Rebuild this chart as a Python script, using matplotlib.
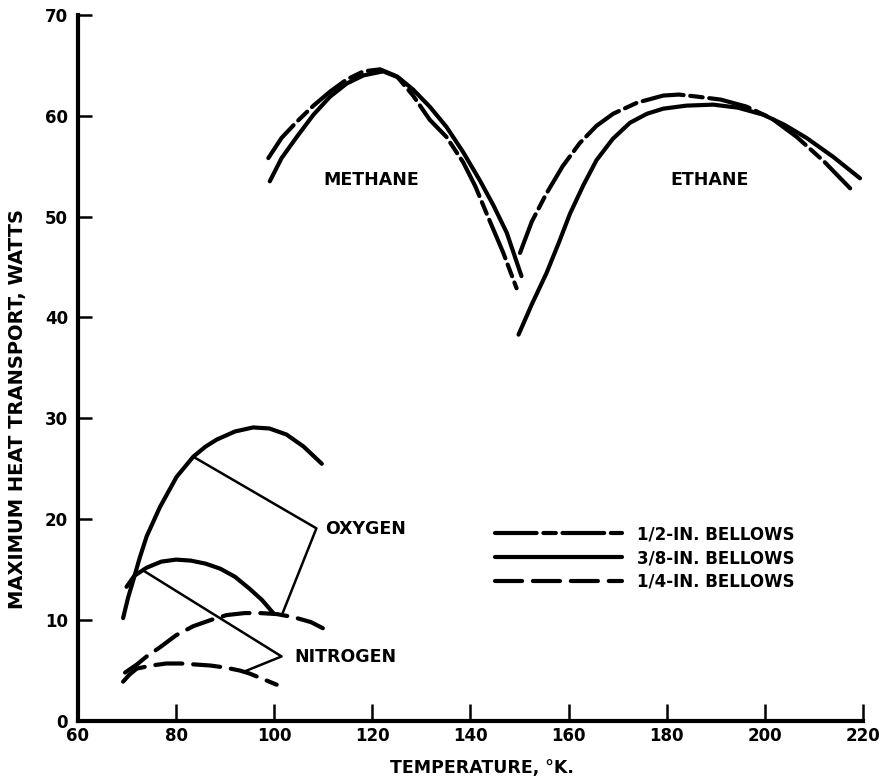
import numpy as np
import matplotlib
matplotlib.use("Agg")
import matplotlib.pyplot as plt

# curve readings, temperature (K) vs maximum heat transport (W)
oxy_38_t = [69.2, 70.2, 71.3, 72.6, 74.0, 76.7, 80.1, 83.5, 86.0, 88.3, 92.0, 95.7, 99.0, 102.5, 106.0, 109.7]
oxy_38_w = [10.2, 12.2, 14.0, 16.2, 18.3, 21.2, 24.2, 26.2, 27.2, 27.9, 28.7, 29.1, 29.0, 28.4, 27.2, 25.5]

nit_38_t = [69.9, 71.5, 74.0, 77.0, 80.0, 83.0, 86.0, 89.0, 92.0, 95.0, 97.5, 99.8]
nit_38_w = [13.3, 14.4, 15.2, 15.8, 16.0, 15.9, 15.6, 15.1, 14.3, 13.1, 12.0, 10.7]

oxy_14_t = [69.6, 72.0, 74.0, 76.7, 80.0, 83.5, 87.0, 90.3, 94.0, 97.1, 100.5, 103.9, 107.5, 110.7]
oxy_14_w = [4.8, 5.6, 6.4, 7.3, 8.5, 9.4, 10.0, 10.5, 10.7, 10.7, 10.6, 10.3, 9.8, 9.0]

nit_14_t = [69.2, 70.5, 72.0, 75.0, 78.0, 81.0, 84.0, 87.0, 90.0, 93.0, 95.0, 97.5, 100.5]
nit_14_w = [3.9, 4.6, 5.2, 5.5, 5.7, 5.7, 5.6, 5.5, 5.3, 5.0, 4.7, 4.2, 3.6]

meth_38_t = [99.1, 101.5, 104.6, 108.0, 111.4, 114.8, 118.2, 122.2, 125.3, 128.3, 131.7, 135.1, 138.5, 141.9, 144.7, 147.4, 150.4]
meth_38_w = [53.5, 55.8, 57.9, 60.1, 61.9, 63.2, 64.0, 64.4, 63.8, 62.6, 60.9, 58.9, 56.4, 53.6, 51.1, 48.4, 44.1]

meth_12_t = [98.8, 101.5, 104.6, 108.0, 111.4, 114.8, 118.2, 121.6, 125.0, 128.3, 131.7, 135.1, 138.5, 141.0, 143.3, 146.7, 149.4]
meth_12_w = [55.8, 57.8, 59.4, 61.0, 62.4, 63.6, 64.4, 64.6, 63.9, 62.0, 59.6, 57.9, 55.4, 53.0, 50.3, 46.4, 42.9]

eth_38_t = [149.8, 152.5, 155.5, 158.0, 160.3, 163.0, 165.7, 169.0, 172.5, 176.0, 179.3, 184.0, 189.5, 194.5, 199.7, 204.0, 208.5, 214.0, 219.4]
eth_38_w = [38.3, 41.3, 44.4, 47.4, 50.3, 53.1, 55.6, 57.7, 59.3, 60.2, 60.7, 61.0, 61.1, 60.8, 60.1, 59.1, 57.8, 55.9, 53.8]

eth_12_t = [150.1, 152.5, 155.5, 158.8, 162.3, 165.7, 169.1, 174.0, 179.3, 182.5, 186.1, 191.0, 196.3, 201.5, 206.5, 212.0, 217.4]
eth_12_w = [46.4, 49.5, 52.3, 55.0, 57.3, 59.0, 60.2, 61.3, 62.0, 62.1, 61.9, 61.6, 60.9, 59.7, 57.9, 55.5, 52.8]

# leader lines from the curves to the gas names
oxy_leader_t = [83.5, 108.6, 101.8]
oxy_leader_w = [26.2, 19.1, 10.8]
nit_leader_t = [73.7, 101.5, 94.4]
nit_leader_w = [14.8, 6.4, 5.0]

x_ticks = [60, 80, 100, 120, 140, 160, 180, 200, 220]
y_ticks = [0, 10, 20, 30, 40, 50, 60, 70]
legend_labels = ["1/2-IN. BELLOWS", "3/8-IN. BELLOWS", "1/4-IN. BELLOWS"]

plt.rcParams['font.family'] = ['DejaVu Sans']
plt.rcParams['font.weight'] = 'bold'

fig = plt.figure(figsize=(8.81, 7.82), dpi=100)
ax = fig.add_axes([0.0885, 0.078, 0.891, 0.903])

lw = 3.0
dash_half = (0, (10, 1.6, 3, 1.6))
dash_quarter = (0, (6.5, 2.6))
style = dict(color='black', lw=lw, solid_capstyle='round', dash_capstyle='round',
             solid_joinstyle='round', dash_joinstyle='round')

h12, = ax.plot(meth_12_t, meth_12_w, linestyle=dash_half, **style)
ax.plot(eth_12_t, eth_12_w, linestyle=dash_half, **style)
h38, = ax.plot(oxy_38_t, oxy_38_w, linestyle='-', **style)
ax.plot(nit_38_t, nit_38_w, linestyle='-', **style)
ax.plot(meth_38_t, meth_38_w, linestyle='-', **style)
ax.plot(eth_38_t, eth_38_w, linestyle='-', **style)
h14, = ax.plot(oxy_14_t, oxy_14_w, linestyle=dash_quarter, **style)
ax.plot(nit_14_t, nit_14_w, linestyle=dash_quarter, **style)

ax.plot(oxy_leader_t, oxy_leader_w, color='black', lw=1.8)
ax.plot(nit_leader_t, nit_leader_w, color='black', lw=1.8)

ax.text(119.7, 53.6, "METHANE", ha='center', va='center', fontsize=12.5, fontweight='bold')
ax.text(188.8, 53.6, "ETHANE", ha='center', va='center', fontsize=12.5, fontweight='bold')
ax.text(110.3, 19.0, "OXYGEN", ha='left', va='center', fontsize=12.5, fontweight='bold')
ax.text(104.2, 6.3, "NITROGEN", ha='left', va='center', fontsize=12.5, fontweight='bold')

ax.set_xlim(60, 220)
ax.set_ylim(0, 70)
ax.set_xticks(x_ticks)
ax.set_yticks(y_ticks)
ax.tick_params(direction='in', width=1.8, labelsize=12)
ax.tick_params(axis='x', length=12, pad=4)
ax.tick_params(axis='y', length=10, pad=7)
for lab in ax.get_xticklabels() + ax.get_yticklabels():
    lab.set_fontweight('bold')

for side in ('top', 'right'):
    ax.spines[side].set_visible(False)
for side in ('left', 'bottom'):
    ax.spines[side].set_linewidth(3)

ax.set_xlabel("TEMPERATURE, °K.", fontsize=12.5, fontweight='bold', va='center')
ax.xaxis.set_label_coords(0.515, -0.0666)
ax.set_ylabel("MAXIMUM HEAT TRANSPORT, WATTS", fontsize=14, fontweight='bold', va='center')
ax.yaxis.set_label_coords(-0.0764, 0.442)

ax.legend([h12, h38, h14], legend_labels, loc='upper left',
          bbox_to_anchor=(145.0, 19.4), bbox_transform=ax.transData,
          frameon=False, handlelength=7.6, handletextpad=0.9,
          labelspacing=0.35, borderpad=0, borderaxespad=0,
          prop={'weight': 'bold', 'size': 12})

fig.savefig("out.png", dpi=100)
